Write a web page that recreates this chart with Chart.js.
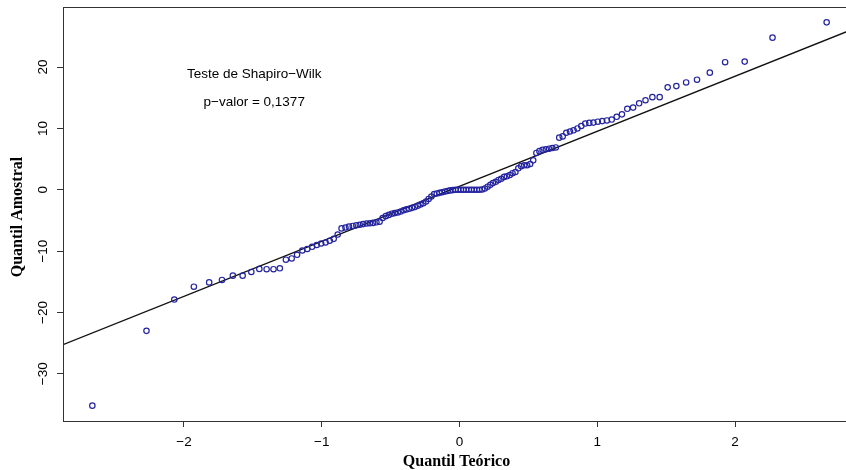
<!DOCTYPE html>
<html>
<head>
<meta charset="utf-8">
<script src="https://cdn.jsdelivr.net/npm/chart.js@4/dist/chart.umd.min.js"></script>
<style>
  html, body { margin: 0; padding: 0; background: #fff; overflow: hidden; }
  #wrap { width: 870px; height: 470px; }
</style>
</head>
<body>
<div id="wrap"><canvas id="qq" width="870" height="470"></canvas></div>
<script>
// theoretical normal quantiles (x) and sorted sample values (y)
const theoretical = [
  -2.665, -2.272, -2.070, -1.928, -1.817, -1.724, -1.645, -1.574, -1.511, -1.453,
  -1.400, -1.350, -1.304, -1.260, -1.218, -1.179, -1.141, -1.105, -1.070, -1.036,
  -1.004, -0.972, -0.942, -0.913, -0.884, -0.856, -0.828, -0.802, -0.775, -0.749,
  -0.724, -0.699, -0.674, -0.650, -0.627, -0.603, -0.580, -0.558, -0.535, -0.513,
  -0.491, -0.470, -0.448, -0.427, -0.406, -0.385, -0.365, -0.344, -0.324, -0.303,
  -0.283, -0.263, -0.243, -0.224, -0.204, -0.184, -0.165, -0.145, -0.126, -0.106,
  -0.087, -0.068, -0.048, -0.029, -0.010,
  0.010, 0.029, 0.048, 0.068, 0.087, 0.106, 0.126, 0.145, 0.165, 0.184,
  0.204, 0.224, 0.243, 0.263, 0.283, 0.303, 0.324, 0.344, 0.365, 0.385,
  0.406, 0.427, 0.448, 0.470, 0.491, 0.513, 0.535, 0.558, 0.580, 0.603,
  0.627, 0.650, 0.674, 0.699, 0.724, 0.749, 0.775, 0.802, 0.828, 0.856,
  0.884, 0.913, 0.942, 0.972, 1.004, 1.036, 1.070, 1.105, 1.141, 1.179,
  1.218, 1.260, 1.304, 1.350, 1.400, 1.453, 1.511, 1.574, 1.645, 1.724,
  1.817, 1.928, 2.070, 2.272, 2.665
];
const sample = [
  -35.2, -23.0, -17.9, -15.8, -15.1, -14.7, -14.0, -14.0, -13.4, -12.9,
  -12.95, -12.95, -12.8, -11.4, -11.2, -10.6, -9.9, -9.65, -9.3, -9.0,
  -8.75, -8.6, -8.3, -8.0, -7.3, -6.3, -6.15, -6.0, -5.9, -5.8,
  -5.7, -5.6, -5.5, -5.45, -5.4, -5.3, -5.2, -4.6, -4.3, -4.1,
  -3.9, -3.8, -3.7, -3.55, -3.35, -3.2, -3.1, -2.95, -2.8, -2.6,
  -2.4, -2.2, -1.9, -1.5, -1.1, -0.7, -0.6, -0.5, -0.4, -0.3,
  -0.2, -0.1, -0.05, 0, 0,
  0, 0, 0, 0, 0, 0, 0, 0, 0.05, 0.2,
  0.5, 0.8, 1.1, 1.3, 1.6, 1.8, 2.1, 2.2, 2.4, 2.7,
  2.9, 3.5, 3.85, 4.0, 4.0, 4.2, 4.8, 6.0, 6.3, 6.5,
  6.6, 6.7, 6.8, 6.9, 8.5, 8.7, 9.3, 9.5, 9.7, 10.0,
  10.4, 10.8, 10.9, 10.95, 11.1, 11.2, 11.3, 11.45, 11.9, 12.3,
  13.2, 13.4, 14.1, 14.6, 15.1, 15.1, 16.7, 16.9, 17.5, 17.95,
  19.1, 20.8, 20.9, 24.8, 27.3
];
// reference line (qqline)
const lineIntercept = 0.57;
const lineSlope = 8.97;

const xTicks = [-2, -1, 0, 1, 2];
const yTicks = [-30, -20, -10, 0, 10, 20];
const xMin = -2.878, xMax = 2.878;
const yMin = -37.7, yMax = 29.8;

const testLines = ["Teste de Shapiro\u2212Wilk", "p\u2212valor = 0,1377"];
const xTitle = "Quantil Teórico";
const yTitle = "Quantil Amostral";

const minus = (v) => String(v).replace("-", "\u2212");

const points = theoretical.map((x, i) => ({ x, y: sample[i] }));
const linePts = [xMin, xMax].map((x) => ({ x, y: lineIntercept + lineSlope * x }));

Chart.defaults.font.family = "'Liberation Sans', Arial, sans-serif";
Chart.defaults.color = "#000";

const rDecor = {
  id: "rDecor",
  afterDraw(chart) {
    const { ctx, chartArea: a, scales } = chart;
    ctx.save();
    // plot box
    ctx.strokeStyle = "#333";
    ctx.lineWidth = 1;
    ctx.strokeRect(a.left + 0.5, a.top + 0.5, a.right - a.left, a.bottom - a.top);

    // y tick labels, vertical like R
    ctx.fillStyle = "#000";
    ctx.font = "13.5px 'Liberation Sans', Arial, sans-serif";
    ctx.textAlign = "center";
    ctx.textBaseline = "middle";
    yTicks.forEach((v) => {
      const py = scales.y.getPixelForValue(v);
      ctx.save();
      ctx.translate(a.left - 20, py);
      ctx.rotate(-Math.PI / 2);
      ctx.fillText(minus(v), 0, 0);
      ctx.restore();
    });

    // axis titles
    ctx.font = "bold 16px 'Liberation Serif', 'Times New Roman', serif";
    ctx.fillText(xTitle, (a.left + a.right) / 2 - 3, 462);
    ctx.save();
    ctx.translate(18, (a.top + a.bottom) / 2 + 3);
    ctx.rotate(-Math.PI / 2);
    ctx.fillText(yTitle, 0, 0);
    ctx.restore();

    // test annotation
    ctx.font = "13.5px 'Liberation Sans', Arial, sans-serif";
    const tx = scales.x.getPixelForValue(-1.49);
    ctx.fillText(testLines[0], tx, scales.y.getPixelForValue(18.8));
    ctx.fillText(testLines[1], tx, scales.y.getPixelForValue(14.2));
    ctx.restore();
  }
};

new Chart(document.getElementById("qq"), {
  type: "scatter",
  data: {
    datasets: [
      {
        data: points,
        pointStyle: "circle",
        pointRadius: 2.7,
        pointBorderWidth: 1.2,
        pointBorderColor: "#2424a0",
        pointBackgroundColor: "rgba(0,0,0,0)",
        pointHoverRadius: 2.7
      },
      {
        type: "line",
        data: linePts,
        borderColor: "#111",
        borderWidth: 1.3,
        pointRadius: 0,
        fill: false
      }
    ]
  },
  options: {
    responsive: false,
    animation: false,
    events: [],
    layout: { padding: { top: 7, right: 14, left: 0, bottom: 0 } },
    plugins: { legend: { display: false }, tooltip: { enabled: false } },
    scales: {
      x: {
        type: "linear",
        min: xMin,
        max: xMax,
        afterBuildTicks: (s) => { s.ticks = xTicks.map((v) => ({ value: v })); },
        afterFit: (s) => { s.height = 49; },
        grid: { drawOnChartArea: false, drawTicks: true, tickLength: 6, color: "#333" },
        border: { display: false },
        ticks: { font: { size: 13.5 }, padding: 7, maxRotation: 0, callback: (v) => minus(v) }
      },
      y: {
        type: "linear",
        min: yMin,
        max: yMax,
        afterBuildTicks: (s) => { s.ticks = yTicks.map((v) => ({ value: v })); },
        afterFit: (s) => { s.width = 63; },
        grid: { drawOnChartArea: false, drawTicks: true, tickLength: 6, color: "#333" },
        border: { display: false },
        ticks: { display: false }
      }
    }
  },
  plugins: [rDecor]
});
</script>
</body>
</html>
